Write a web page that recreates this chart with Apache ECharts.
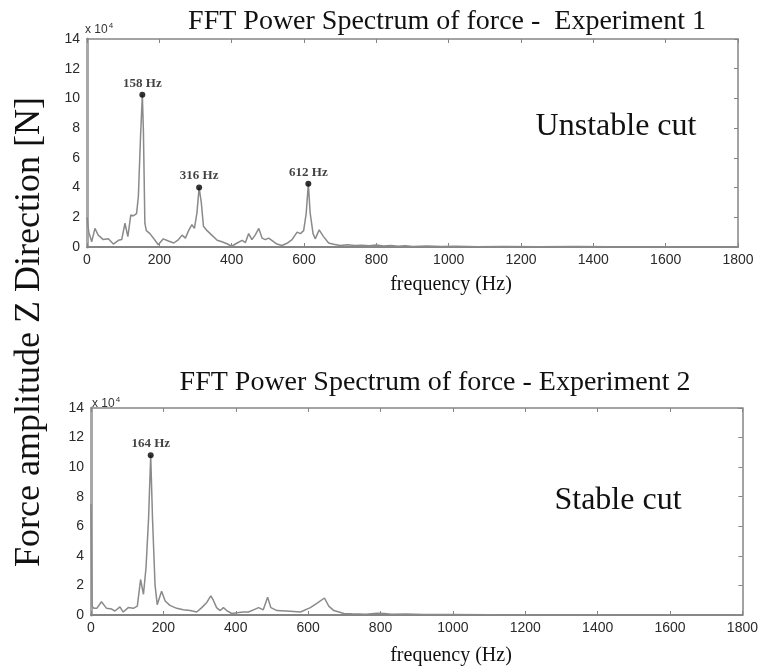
<!DOCTYPE html>
<html><head><meta charset="utf-8">
<script src="https://cdn.jsdelivr.net/npm/echarts@6/dist/echarts.min.js"></script>
<style>html,body{margin:0;padding:0;background:#fff}#c{width:761px;height:670px}</style>
</head><body><div id="c"></div>
<script>
// Experiment 1 (unstable cut): frequency (Hz) and amplitude (x10^4 N)
const freq1 = [0,5,13,22,31,45,59,73,87,96,105,113,121,128,137,142,148,153,156,160,164,174,188,197,211,225,240,253,263,272,281,290,297,304,310,316,322,332,345,360,373,387,400,415,429,438,447,456,465,475,484,493,502,511,525,539,553,567,581,590,599,606,612,617,625,631,642,654,668,682,700,720,740,760,780,800,820,840,860,880,900,940,980,1020,1080,1150,1250,1350,1450,1550,1650,1800];
const amp1  = [2.0,1.0,0.35,1.25,0.8,0.5,0.55,0.2,0.45,0.5,1.6,0.7,2.15,2.1,2.25,3.4,7.4,10.25,7.8,1.6,1.1,0.9,0.45,0.15,0.55,0.4,0.27,0.5,0.8,0.6,1.1,1.5,1.25,2.3,4.0,3.0,1.4,1.1,0.8,0.45,0.35,0.22,0.05,0.27,0.45,0.3,0.9,0.5,0.8,1.25,0.6,0.5,0.6,0.45,0.2,0.1,0.25,0.5,1.0,0.9,1.1,2.25,4.25,2.3,0.9,0.55,1.15,0.7,0.27,0.18,0.1,0.15,0.1,0.12,0.08,0.14,0.06,0.1,0.05,0.09,0.04,0.07,0.03,0.05,0.02,0.04,0.02,0.03,0.02,0.02,0.01,0.01];
const peakFreq1 = [153, 310, 612];
const peakAmp1  = [10.25, 4.0, 4.25];
const peakText1 = ['158 Hz', '316 Hz', '612 Hz'];

// Experiment 2 (stable cut)
const freq2 = [0,3,8,16,29,43,57,66,80,89,103,117,128,137,145,152,159,165,170,177,183,195,205,218,237,255,274,292,306,320,331,338,347,357,366,375,389,403,421,435,449,463,476,488,497,514,551,579,606,625,645,657,671,699,720,760,790,810,830,870,920,1000,1100,1200,1400,1600,1800];
const amp2  = [7.5,0.6,0.45,0.45,0.9,0.45,0.4,0.27,0.55,0.2,0.5,0.45,0.6,2.4,1.4,3.2,6.5,10.8,6.5,2.0,0.7,1.6,0.95,0.65,0.45,0.35,0.3,0.2,0.5,0.85,1.3,1.0,0.5,0.3,0.5,0.3,0.1,0.15,0.2,0.2,0.35,0.5,0.35,1.2,0.5,0.3,0.25,0.2,0.5,0.8,1.15,0.6,0.3,0.1,0.08,0.05,0.12,0.1,0.05,0.06,0.03,0.03,0.02,0.02,0.01,0.01,0.01];
const peakFreq2 = [165];
const peakAmp2  = [10.8];
const peakText2 = ['164 Hz'];

const xTicks = [0,200,400,600,800,1000,1200,1400,1600,1800];
const yTicks = [0,2,4,6,8,10,12,14];

const zip = (a, b) => a.map((v, i) => [v, b[i]]);

const AX = '#858585';
const serif = '"Liberation Serif","Times New Roman",serif';
const sans = '"Liberation Sans",Arial,sans-serif';

function xAx(grid, pos) {
  const main = pos === 'bottom';
  return {
    type: 'value', gridIndex: grid, position: pos,
    min: xTicks[0], max: xTicks[xTicks.length - 1], interval: xTicks[1] - xTicks[0],
    axisLine: { show: true, onZero: false, lineStyle: { color: AX, width: main ? 2 : 1.5 } },
    axisTick: { show: true, inside: true, length: 4, lineStyle: { color: AX, width: 1 } },
    axisLabel: { show: main, margin: 6, fontSize: 14, color: '#2a2a2a', fontFamily: sans,
      formatter: v => String(v) },
    splitLine: { show: false }
  };
}
function yAx(grid, pos) {
  const main = pos === 'left';
  return {
    type: 'value', gridIndex: grid, position: pos,
    min: yTicks[0], max: yTicks[yTicks.length - 1], interval: yTicks[1] - yTicks[0],
    axisLine: { show: true, onZero: false, lineStyle: { color: main ? '#a8a8a8' : AX, width: main ? 3 : 1.5 } },
    axisTick: { show: !main, inside: true, length: 4, lineStyle: { color: AX, width: 1 } },
    axisLabel: { show: main, margin: 7, fontSize: 14, color: '#2a2a2a', fontFamily: sans,
      formatter: v => String(v) },
    splitLine: { show: false }
  };
}

function peakSeries(xi, yi, f, a, txt) {
  return {
    type: 'scatter', xAxisIndex: xi, yAxisIndex: yi, data: zip(f, a),
    symbol: 'circle', symbolSize: 6, itemStyle: { color: '#000' }, z: 5,
    label: { show: true, position: 'top', distance: 2, formatter: p => txt[p.dataIndex],
      fontFamily: serif, fontWeight: 'bold', fontSize: 13, color: '#111' }
  };
}

function txt(x, y, text, size, extra) {
  return Object.assign({ type: 'text', x: x, y: y, silent: true,
    style: { text: text, fontFamily: serif, fontSize: size, fill: '#111', align: 'center', verticalAlign: 'middle' } }, extra || {});
}
function sci(x, y) {
  return { type: 'text', x: x, y: y, silent: true,
    style: { text: '{a|x 10}{b|4}', align: 'left', verticalAlign: 'middle',
      rich: { a: { fontFamily: sans, fontSize: 12, fill: '#333' },
              b: { fontFamily: sans, fontSize: 8, fill: '#333', verticalAlign: 'top', padding: [0, 0, 8, 1] } } } };
}

const chart = echarts.init(document.getElementById('c'), null, { renderer: 'canvas' });
chart.setOption({
  animation: false,
  backgroundColor: '#fff',
  grid: [
    { left: 87, top: 39, width: 651, height: 208 },
    { left: 91, top: 408, width: 652, height: 207 }
  ],
  xAxis: [xAx(0, 'bottom'), xAx(0, 'top'), xAx(1, 'bottom'), xAx(1, 'top')],
  yAxis: [yAx(0, 'left'), yAx(0, 'right'), yAx(1, 'left'), yAx(1, 'right')],
  series: [
    { type: 'line', xAxisIndex: 0, yAxisIndex: 0, data: zip(freq1, amp1), showSymbol: false,
      lineStyle: { color: '#8a8a8a', width: 1.5 } },
    peakSeries(0, 0, peakFreq1, peakAmp1, peakText1),
    { type: 'line', xAxisIndex: 2, yAxisIndex: 2, data: zip(freq2, amp2), showSymbol: false,
      lineStyle: { color: '#8a8a8a', width: 1.5 } },
    peakSeries(2, 2, peakFreq2, peakAmp2, peakText2)
  ],
  graphic: [
    txt(447, 22, 'FFT Power Spectrum of force -  Experiment 1', 28),
    txt(435, 383, 'FFT Power Spectrum of force - Experiment 2', 28),
    txt(616, 127, 'Unstable cut', 32),
    txt(618, 501, 'Stable cut', 32),
    txt(451, 285, 'frequency (Hz)', 20),
    txt(451, 656, 'frequency (Hz)', 20),
    txt(30, 332, 'Force amplitude Z Direction [N]', 36, { rotation: Math.PI / 2 }),
    sci(85, 30),
    sci(92, 404)
  ]
});
</script></body></html>
